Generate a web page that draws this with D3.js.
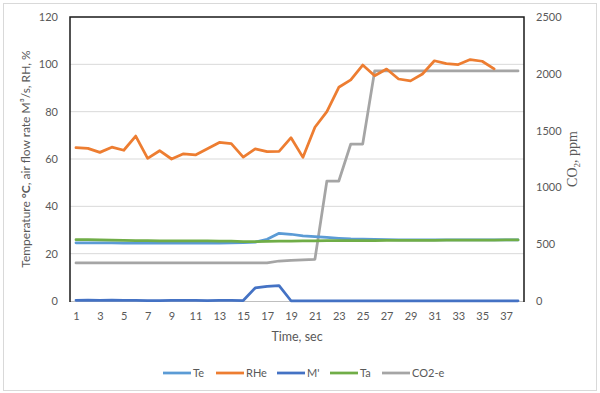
<!DOCTYPE html>
<html>
<head>
<meta charset="utf-8">
<script src="https://cdnjs.cloudflare.com/ajax/libs/d3/7.8.5/d3.min.js"></script>
<style>
  html, body { margin: 0; padding: 0; background: #fff; }
  svg { display: block; }
</style>
</head>
<body>
<svg id="chart" width="600" height="393"></svg>
<script>
const categories = [1,2,3,4,5,6,7,8,9,10,11,12,13,14,15,16,17,18,19,20,21,22,23,24,25,26,27,28,29,30,31,32,33,34,35,36,37,38];
const tickLabels = [1,3,5,7,9,11,13,15,17,19,21,23,25,27,29,31,33,35,37];
const leftTicks = [0,20,40,60,80,100,120];
const rightTicks = [0,500,1000,1500,2000,2500];

const Te = [24.6,24.6,24.6,24.6,24.5,24.5,24.5,24.5,24.5,24.5,24.5,24.5,24.5,24.6,24.7,24.9,26.1,28.6,28.2,27.5,27.2,26.9,26.5,26.2,26.1,26.0,25.9,25.8,25.8,25.8,25.8,25.8,25.8,25.8,25.8,25.8,25.8,25.8];
const RHe = [64.8,64.5,62.8,65,63.7,69.7,60.3,63.5,60,62.2,61.7,64.3,67,66.5,60.8,64.3,63.1,63.2,69,60.7,73.4,80,90.3,93.4,99.7,95.2,98,93.8,93,95.9,101.5,100.3,99.9,102,101.3,98.1];
const Mp = [0.3,0.4,0.3,0.4,0.3,0.3,0.2,0.2,0.3,0.3,0.3,0.2,0.3,0.3,0.2,5.5,6.2,6.5,0.1,0.1,0.1,0.1,0.1,0.1,0.1,0.1,0.1,0.1,0.1,0.1,0.1,0.1,0.1,0.1,0.1,0.1,0.1,0.1];
const Ta = [25.9,25.9,25.8,25.7,25.6,25.5,25.5,25.4,25.4,25.4,25.4,25.4,25.3,25.3,25.1,25.1,25.2,25.3,25.3,25.4,25.4,25.5,25.5,25.5,25.5,25.5,25.6,25.6,25.6,25.6,25.6,25.7,25.7,25.7,25.7,25.7,25.8,25.8];
const CO2 = [335,335,335,335,335,335,335,335,335,335,335,335,335,335,335,335,335,352,358,363,367,1056,1056,1382,1382,2025,2025,2025,2025,2025,2025,2025,2025,2025,2025,2025,2025,2025];

const seriesNames = ["Te","RHe","M'","Ta","CO2-e"];
const seriesColors = ["#5B9BD5","#ED7D31","#4472C4","#70AD47","#A5A5A5"];

const svg = d3.select("#chart");
const plot = {left: 70, right: 524, top: 17, bottom: 301};
const font = "Lato, 'Open Sans', sans-serif";
const textColor = "#595959";

// outer border
svg.append("rect").attr("x",3.5).attr("y",3.5).attr("width",593).attr("height",387)
  .attr("fill","#fff").attr("stroke","#D9D9D9").attr("stroke-width",1);

const x = d3.scalePoint().domain(categories).range([plot.left, plot.right]).padding(0.5);
const yL = d3.scaleLinear().domain([0,120]).range([plot.bottom, plot.top]);
const yR = d3.scaleLinear().domain([0,2500]).range([plot.bottom, plot.top]);

// gridlines
svg.append("g").selectAll("line").data(leftTicks.filter(d => d > 0 && d < 120)).join("line")
  .attr("x1", plot.left).attr("x2", plot.right)
  .attr("y1", d => yL(d)).attr("y2", d => yL(d))
  .attr("stroke","#D9D9D9").attr("stroke-width",1);

// left axis labels
const gl = svg.append("g").attr("transform",`translate(${plot.left},0)`)
  .call(d3.axisLeft(yL).tickValues(leftTicks).tickFormat(d3.format("d")).tickSize(0).tickPadding(12));
gl.select(".domain").remove();
gl.selectAll("text").attr("font-family",font).attr("font-size",11).attr("fill",textColor);

// right axis labels
const gr = svg.append("g").attr("transform",`translate(${plot.right},0)`)
  .call(d3.axisRight(yR).tickValues(rightTicks).tickFormat(d3.format("d")).tickSize(0).tickPadding(12));
gr.select(".domain").remove();
gr.selectAll("text").attr("font-family",font).attr("font-size",11).attr("fill",textColor);

// bottom axis
const gb = svg.append("g").attr("transform",`translate(0,${plot.bottom})`)
  .call(d3.axisBottom(x).tickValues(tickLabels).tickSize(0).tickPadding(11));
gb.select(".domain").attr("stroke","#BFBFBF").attr("stroke-width",1)
  .attr("d", `M${plot.left},0.5H${plot.right}`);
gb.selectAll("text").attr("font-family",font).attr("font-size",11).attr("fill",textColor);

// plot border (left, top, right)
svg.append("path")
  .attr("d", `M${plot.left},${plot.bottom+1}V${plot.top}H${plot.right}V${plot.bottom+1}`)
  .attr("fill","none").attr("stroke","#1a1a1a").attr("stroke-width",1.5);

// lines
const lineL = d3.line().x((d,i) => x(categories[i])).y(d => yL(d));
const lineR = d3.line().x((d,i) => x(categories[i])).y(d => yR(d));
const series = [
  {data: Te, line: lineL, color: seriesColors[0]},
  {data: RHe, line: lineL, color: seriesColors[1]},
  {data: Mp, line: lineL, color: seriesColors[2]},
  {data: Ta, line: lineL, color: seriesColors[3]},
  {data: CO2, line: lineR, color: seriesColors[4]}
];
const order = [4,0,3,2,1];
order.forEach(k => {
  const s = series[k];
  svg.append("path").attr("d", s.line(s.data)).attr("fill","none")
    .attr("stroke", s.color).attr("stroke-width", 2.75)
    .attr("stroke-linejoin","round").attr("stroke-linecap","round");
});

// axis titles
const lt = svg.append("text")
  .attr("transform", `translate(30,${(plot.top+plot.bottom)/2}) rotate(-90)`)
  .attr("text-anchor","middle").attr("font-family",font).attr("font-size",12).attr("fill",textColor);
lt.append("tspan").text("Temperature ");
lt.append("tspan").attr("font-weight","bold").text("°C");
lt.append("tspan").text(", air flow rate M³/s, RH, %");

const rt = svg.append("text")
  .attr("transform", `translate(577,${(plot.top+plot.bottom)/2}) rotate(-90)`)
  .attr("text-anchor","middle").attr("font-family","'Liberation Serif', 'DejaVu Serif', serif")
  .attr("font-size",14).attr("fill",textColor);
rt.append("tspan").text("CO");
rt.append("tspan").attr("font-size",9).attr("dy",3).text("2");
rt.append("tspan").attr("dy",-3).text(", ppm");

svg.append("text").attr("x",(plot.left+plot.right)/2).attr("y",341)
  .attr("text-anchor","middle").attr("font-family",font).attr("font-size",12.5)
  .attr("fill",textColor).text("Time, sec");

// legend
const legendX = [163, 216, 277, 330, 382];
const lg = svg.append("g");
seriesNames.forEach((n,i) => {
  lg.append("line").attr("x1",legendX[i]).attr("x2",legendX[i]+28)
    .attr("y1",373).attr("y2",373).attr("stroke",seriesColors[i]).attr("stroke-width",2.75);
  lg.append("text").attr("x",legendX[i]+30).attr("y",377)
    .attr("font-family",font).attr("font-size",11).attr("fill",textColor).text(n);
});
</script>
</body>
</html>
